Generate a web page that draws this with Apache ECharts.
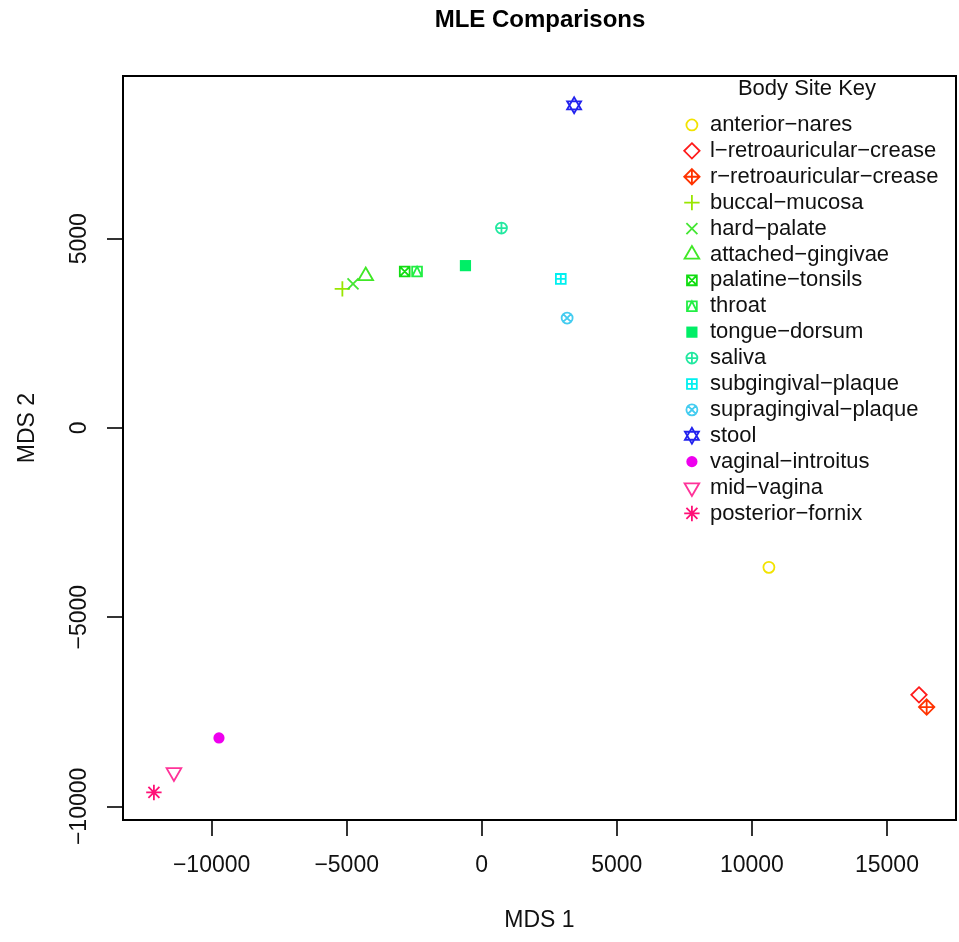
<!DOCTYPE html>
<html><head><meta charset="utf-8">
<script src="https://cdn.jsdelivr.net/npm/echarts@6/dist/echarts.min.js"></script>
<style>html,body{margin:0;padding:0;background:#fff}#c{width:959px;height:942px}</style>
</head><body><div id="c"></div>
<script>
// ---- data ----
const categories = ['anterior-nares','l-retroauricular-crease','r-retroauricular-crease','buccal-mucosa','hard-palate','attached-gingivae','palatine-tonsils','throat','tongue-dorsum','saliva','subgingival-plaque','supragingival-plaque','stool','vaginal-introitus','mid-vagina','posterior-fornix'];
const mds1 = [10630, 16186, 16470, -5160, -4766, -4296, -2852, -2395, -604, 729, 2926, 3160, 3419, -9728, -11396, -12137];
const mds2 = [-3684, -7053, -7376, 3676, 3807, 4016, 4132, 4132, 4289, 5281, 3939, 2903, 8526, -8192, -9103, -9632];
const xTicks = [-10000, -5000, 0, 5000, 10000, 15000];
const yTicks = [-10000, -5000, 0, 5000];
const colors = ['#F2E300','#FF1A1A','#FF3300','#99E600','#44E633','#40E826','#11DD11','#22EE44','#00EE66','#22E8A0','#00F0F0','#44CCF0','#2222EE','#EE00EE','#FF3399','#FF1177'];

// ---- symbol geometry (R pch shapes) ----
const BOX = 18, K = 100 / BOX;
const p = (x, y) => (50 + x * K).toFixed(2) + ' ' + (50 + y * K).toFixed(2);
const frame = 'M0 0 M100 100 ';
const circ = r => { const rr = (r * K).toFixed(2); return `M${p(-r,0)} A${rr} ${rr} 0 1 1 ${p(r,0)} A${rr} ${rr} 0 1 1 ${p(-r,0)} Z `; };
const diam = h => `M${p(0,-h)} L${p(h,0)} L${p(0,h)} L${p(-h,0)} Z `;
const plus = h => `M${p(0,-h)} L${p(0,h)} M${p(-h,0)} L${p(h,0)} `;
const cross = h => `M${p(-h,-h)} L${p(h,h)} M${p(h,-h)} L${p(-h,h)} `;
const sq = h => `M${p(-h,-h)} L${p(h,-h)} L${p(h,h)} L${p(-h,h)} Z `;
const RC = 5.5, SQ = 4.9;
const triUp = `M${p(0,-8.5)} L${p(7.36,4.25)} L${p(-7.36,4.25)} Z `;
const triDn = `M${p(0,8.5)} L${p(7.36,-4.25)} L${p(-7.36,-4.25)} Z `;
const shapes = [
  circ(RC),
  diam(7.7),
  diam(7.7) + plus(7.7),
  plus(7.7),
  cross(RC),
  triUp,
  sq(SQ) + cross(SQ),
  sq(SQ) + `M${p(-SQ,SQ)} L${p(0,-SQ)} L${p(SQ,SQ)} `,
  sq(5.6),
  circ(RC) + plus(RC),
  sq(SQ) + plus(SQ),
  circ(RC) + cross(RC / Math.SQRT2),
  `M${p(0,-8)} L${p(7,4)} L${p(-7,4)} Z M${p(0,8)} L${p(7,-4)} L${p(-7,-4)} Z `,
  circ(5.6),
  triDn,
  cross(RC) + plus(7.7)
];
const filled = [0,0,0,0,0,0,0,0,1,0,0,0,0,1,0,0];
const LW = 1.8;
const minus = v => String(v).replace('-', '\u2212');

const series = categories.map((name, i) => ({
  type: 'scatter',
  name,
  data: [[mds1[i], mds2[i]]],
  symbol: 'path://' + frame + shapes[i],
  symbolSize: BOX,
  symbolKeepAspect: true,
  silent: true,
  itemStyle: {
    color: filled[i] ? colors[i] : 'rgba(0,0,0,0)',
    borderColor: colors[i],
    borderWidth: filled[i] ? 0 : LW,
    opacity: 1
  },
  emphasis: { disabled: true }
}));

const chart = echarts.init(document.getElementById('c'), null, { renderer: 'canvas' });
chart.setOption({
  animation: false,
  backgroundColor: '#fff',
  textStyle: { fontFamily: 'Liberation Sans, Arial, sans-serif' },
  title: [
    { text: 'MLE Comparisons', left: 540, top: 8, padding: 0, textAlign: 'center',
      textStyle: { fontSize: 24, fontWeight: 'bold', color: '#000', fontFamily: 'Liberation Sans' } },
    { text: 'Body Site Key', left: 807, top: 78, padding: 0, textAlign: 'center',
      textStyle: { fontSize: 22, fontWeight: 'normal', color: '#111', fontFamily: 'Liberation Sans' } }
  ],
  legend: {
    orient: 'vertical', left: 682, top: 112, padding: 0,
    itemWidth: 26, itemHeight: BOX, itemGap: 0,
    selectedMode: false,
    data: categories.map((name, i) => ({ name, itemStyle: { borderWidth: filled[i] ? 0 : LW } })),
    formatter: n => n.replace(/-/g, '\u2212'),
    textStyle: { fontSize: 22, color: '#111', lineHeight: 25.9, fontFamily: 'Liberation Sans' }
  },
  grid: { left: 123, right: 3, top: 76, bottom: 122, show: true, borderColor: '#000', borderWidth: 2, backgroundColor: 'transparent' },
  xAxis: {
    type: 'value', min: -13281, max: 17556,
    axisLine: { show: true, onZero: false, lineStyle: { color: '#000', width: 2 } },
    splitLine: { show: false },
    axisTick: { show: true, length: 16, customValues: xTicks, lineStyle: { color: '#000', width: 1.6 } },
    axisLabel: { customValues: xTicks, margin: 34, fontSize: 23, color: '#111', formatter: minus, fontFamily: 'Liberation Sans' },
    name: 'MDS 1', nameLocation: 'middle', nameGap: 89,
    nameTextStyle: { fontSize: 23, color: '#111', fontFamily: 'Liberation Sans' }
  },
  yAxis: {
    type: 'value', min: -10360, max: 9300,
    axisLine: { show: true, onZero: false, lineStyle: { color: '#000', width: 2 } },
    splitLine: { show: false },
    axisTick: { show: true, length: 16, customValues: yTicks, lineStyle: { color: '#000', width: 1.6 } },
    axisLabel: { customValues: yTicks, rotate: 90, margin: 32, fontSize: 23, color: '#111', formatter: minus, fontFamily: 'Liberation Sans' },
    name: 'MDS 2', nameLocation: 'middle', nameGap: 84,
    nameTextStyle: { fontSize: 23, color: '#111', padding: [0, 0, 0, 40], fontFamily: 'Liberation Sans' }
  },
  series
});
</script></body></html>
